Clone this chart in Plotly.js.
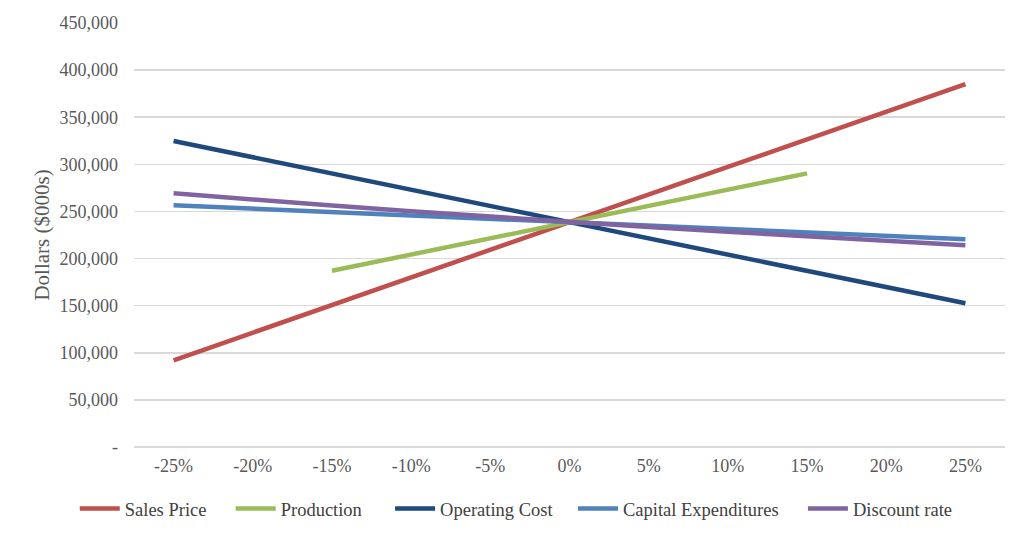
<!DOCTYPE html>
<html>
<head>
<meta charset="utf-8">
<script src="https://cdn.plot.ly/plotly-3.0.1.min.js"></script>
<style>html,body{margin:0;padding:0;background:#fff;}#chart{width:1027px;height:538px;}</style>
</head>
<body>
<div id="chart"></div>
<script>
const categories = ["-25%","-20%","-15%","-10%","-5%","0%","5%","10%","15%","20%","25%"];
const salesPrice = [92000,121500,150800,180000,209300,238600,268000,297300,326500,355800,385000];
const production = [null,null,187000,204200,221400,238600,255800,273100,290400,null,null];
const operatingCost = [324800,307600,290400,273200,256000,238600,221600,204400,187200,170000,152500];
const capitalExpenditures = [256600,253000,249400,245800,242200,238600,235000,231400,227800,224200,220600];
const discountRate = [269300,262500,256200,250200,244300,238600,233400,228500,223600,218800,214200];
const yTickVals = [0,50000,100000,150000,200000,250000,300000,350000,400000,450000];
const yTickText = ["-","50,000","100,000","150,000","200,000","250,000","300,000","350,000","400,000","450,000"];

const seriesNames = ["Sales Price","Production","Operating Cost","Capital Expenditures","Discount rate"];
const seriesData = [salesPrice, production, operatingCost, capitalExpenditures, discountRate];
const colors = ["#c0504d","#9bbb59","#1f497d","#4f81bd","#8064a2"];
const legendIds = ["legend","legend2","legend3","legend4","legend5"];
const legendX = [-0.068, 0.111, 0.294, 0.504, 0.768];

const traces = seriesData.map((ys, i) => ({
  type: "scatter",
  mode: "lines",
  name: seriesNames[i],
  legend: legendIds[i],
  x: categories,
  y: ys,
  line: {color: colors[i], width: 4.5},
  connectgaps: false
}));

const ff = "Liberation Serif, Times New Roman, serif";

const layout = {
  width: 1027, height: 538,
  margin: {l: 134, r: 22, t: 23, b: 91, autoexpand: false},
  paper_bgcolor: "#fff", plot_bgcolor: "#fff",
  font: {family: ff, color: "#595959", size: 18},
  showlegend: true,
  xaxis: {
    type: "category",
    range: [-0.5, 10.5], autorange: false,
    showgrid: false, zeroline: false, showline: false,
    ticks: "", tickangle: 0,
    tickfont: {family: ff, size: 18, color: "#595959"},
    ticklabelstandoff: 6
  },
  yaxis: {
    range: [0, 450000], autorange: false,
    tickvals: yTickVals, ticktext: yTickText,
    showgrid: true, gridcolor: "#d9d9d9", gridwidth: 1.5,
    zeroline: true, zerolinecolor: "#d9d9d9", zerolinewidth: 1.5,
    showline: false, ticks: "",
    tickfont: {family: ff, size: 18, color: "#595959"},
    ticklabelstandoff: 15,
    title: {text: "Dollars ($000s)", font: {family: ff, size: 21, color: "#595959"}, standoff: 4}
  }
};
legendIds.forEach((id, i) => {
  layout[id] = {
    orientation: "h", x: legendX[i], xanchor: "left",
    y: -0.146, yanchor: "middle",
    font: {family: ff, size: 18.5, color: "#404040"},
    itemwidth: 40, bgcolor: "rgba(0,0,0,0)"
  };
});

Plotly.newPlot("chart", traces, layout, {displayModeBar: false, staticPlot: true});
</script>
</body>
</html>
